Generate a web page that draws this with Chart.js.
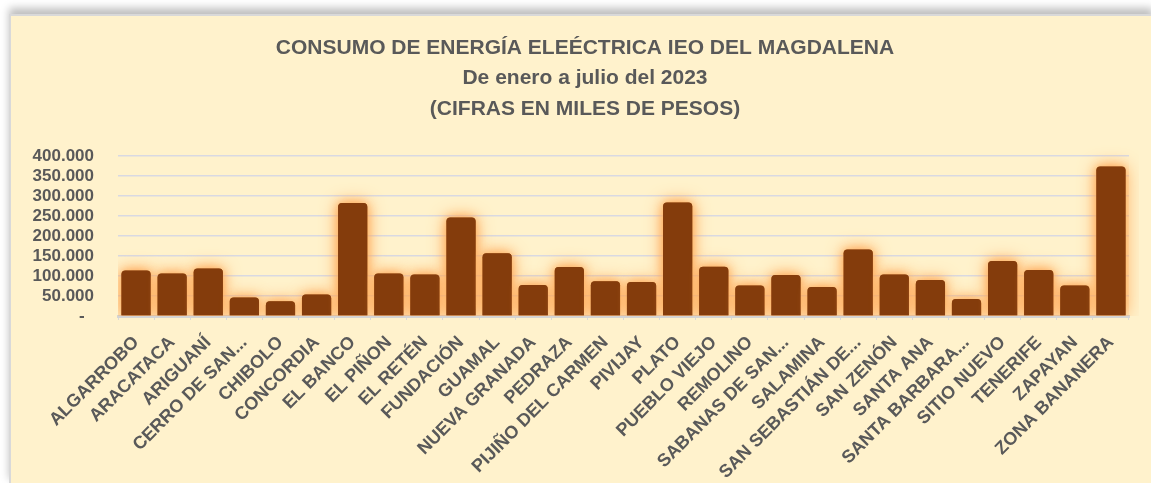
<!DOCTYPE html>
<html>
<head>
<meta charset="utf-8">
<script src="https://cdn.jsdelivr.net/npm/chart.js@4.4.0/dist/chart.umd.min.js"></script>
<style>
  html, body { margin: 0; padding: 0; background: #fff; overflow: hidden; }
  #box {
    position: absolute; left: 9px; top: 14px; width: 1142px; height: 469px;
    background: #FFF2CC; border-left: 2px solid #D9D9D9; border-top: 2px solid #D9D9D9;
    box-shadow: 0 -6px 8px rgba(0,0,0,0.25);
  }
  #myChart { display: block; }
</style>
</head>
<body>
<div id="box"><canvas id="myChart" width="1140" height="467"></canvas></div>
<script>
// municipios (como aparecen en el eje)
const municipios = ['ALGARROBO', 'ARACATACA', 'ARIGUANÍ', 'CERRO DE SAN...', 'CHIBOLO', 'CONCORDIA',
    'EL BANCO', 'EL PIÑON', 'EL RETÉN', 'FUNDACIÓN', 'GUAMAL', 'NUEVA GRANADA', 'PEDRAZA',
    'PIJIÑO DEL CARMEN', 'PIVIJAY', 'PLATO', 'PUEBLO VIEJO', 'REMOLINO', 'SABANAS DE SAN...',
    'SALAMINA', 'SAN SEBASTIÁN DE...', 'SAN ZENÓN', 'SANTA ANA', 'SANTA BARBARA...',
    'SITIO NUEVO', 'TENERIFE', 'ZAPAYAN', 'ZONA BANANERA'];

// consumo en miles de pesos
const consumo = [114000, 106000, 119000, 46000, 37000, 54000,
    282500, 106000, 104000, 246000, 157000, 77500, 122500,
    87000, 85000, 284000, 123000, 76000, 102500,
    72500, 166000, 104000, 90000, 42500,
    137500, 115000, 76000, 374000];

const titulo = ['CONSUMO DE ENERGÍA ELEÉCTRICA IEO DEL MAGDALENA', 'De enero a julio del 2023', '(CIFRAS EN MILES DE PESOS)'];
const yMax = 400000;
const yStep = 50000;

function formatMiles(v) {
    if (v === 0) return '-  ';
    return String(v).replace(/\B(?=(\d{3})+(?!\d))/g, '.');
}

const gray = '#595959';

// titulo centrado en el recuadro del grafico (no en el canvas)
const titlePlugin = {
    id: 'tituloCentrado',
    afterDraw(chart) {
        const ctx = chart.ctx;
        ctx.save();
        ctx.fillStyle = gray;
        ctx.font = 'bold 21px "Liberation Sans", Arial';
        ctx.textAlign = 'center';
        ctx.textBaseline = 'middle';
        titulo.forEach((linea, i) => {
            ctx.fillText(linea, 574, 32 + i * 30.5);
        });
        ctx.restore();
    }
};

// brillo naranja alrededor de las barras (se pinta dos veces para que sea mas fuerte)
const glowPlugin = {
    id: 'glow',
    beforeDatasetsDraw(chart) {
        const ctx = chart.ctx;
        const area = chart.chartArea;
        ctx.save();
        ctx.beginPath();
        ctx.rect(area.left, area.top - 20, area.right - area.left + 10, area.bottom - area.top + 20);
        ctx.clip();
        ctx.shadowColor = 'rgba(255,165,80,1)';
        ctx.shadowBlur = 18;
        chart.getDatasetMeta(0).data.forEach(bar => bar.draw(ctx));
        ctx.restore();
        ctx.save();
        ctx.shadowColor = 'rgba(255,170,90,0.9)';
        ctx.shadowBlur = 10;
    },
    afterDatasetsDraw(chart) {
        chart.ctx.restore();
    }
};

const ctx = document.getElementById('myChart');

new Chart(ctx, {
    type: 'bar',
    data: {
        labels: municipios,
        datasets: [{
            data: consumo,
            backgroundColor: '#843C0C',
            borderRadius: 4,
            categoryPercentage: 1,
            barPercentage: 0.81
        }]
    },
    options: {
        responsive: false,
        animation: false,
        layout: { padding: { left: 0, right: 22, top: 140, bottom: 0 } },
        plugins: {
            legend: { display: false },
            tooltip: { enabled: false },
            title: { display: false }
        },
        scales: {
            x: {
                grid: { display: true, drawOnChartArea: false, color: '#D9D9D9', tickLength: 4 },
                border: { color: '#D4D4D4', width: 3 },
                ticks: {
                    color: gray,
                    font: { family: 'Liberation Sans, Arial', size: 18, weight: 'bold' },
                    maxRotation: 45, minRotation: 45, autoSkip: false, padding: 12
                },
                afterFit(scale) {
                    scale.height = 167;
                    scale.paddingLeft = 0;
                }
            },
            y: {
                min: 0, max: yMax,
                grid: { color: '#D9D9E2', lineWidth: 1.5, drawTicks: false },
                border: { display: false },
                ticks: {
                    stepSize: yStep,
                    autoSkip: false,
                    color: gray,
                    padding: 24,
                    font: { family: 'Liberation Sans, Arial', size: 17, weight: 'bold' },
                    callback: (v) => formatMiles(v)
                },
                afterFit(scale) { scale.width = 107; }
            }
        }
    },
    plugins: [glowPlugin, titlePlugin]
});
</script>
</body>
</html>
